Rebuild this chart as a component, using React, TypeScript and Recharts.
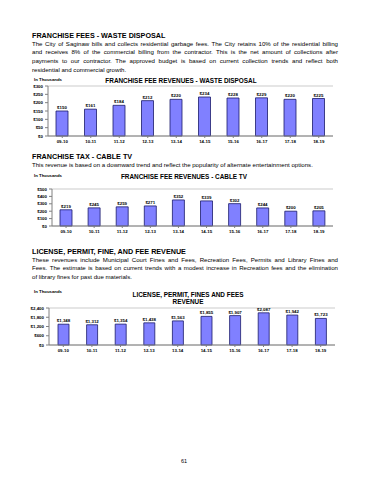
import React from 'react';
import { BarChart, Bar, XAxis, YAxis, CartesianGrid, LabelList } from 'recharts';

const years = ['09-10', '10-11', '11-12', '12-13', '13-14', '14-15', '15-16', '16-17', '17-18', '18-19'];
const wasteValues = [150, 161, 184, 212, 220, 234, 228, 229, 220, 225];
const cableValues = [219, 245, 259, 271, 352, 339, 302, 244, 200, 205];
const licenseValues = [1348, 1312, 1354, 1438, 1563, 1855, 1907, 2087, 1942, 1723];
const wasteTicks = [0, 50, 100, 150, 200, 250, 300];
const cableTicks = [0, 100, 200, 300, 400, 500];
const licenseTicks = [0, 600, 1200, 1800, 2400];

const wastePara = [
  'The City of Saginaw bills and collects residential garbage fees.  The City retains 10% of the residential billing',
  'and receives 8% of the commercial billing from the contractor.  This is the net amount of collections after',
  'payments to our contractor.  The approved budget is based on current collection trends and reflect both',
  'residential and commercial growth.',
];
const cablePara = [
  'This revenue is based on a downward trend and reflect the popularity of alternate entertainment options.',
];
const licensePara = [
  'These revenues include Municipal Court Fines and Fees, Recreation Fees, Permits and Library Fines and',
  'Fees.  The estimate is based on current trends with a modest increase in Recreation fees and the elimination',
  'of library fines for past due materials.',
];

const FONT = '"Liberation Sans", Arial, sans-serif';
const money = (v: number) => '$' + v.toLocaleString('en-US');

const Heading = ({ text, y }: { text: string; y: number }) => (
  <div style={{ position: 'absolute', left: 32, top: y - 4.5, fontSize: 7.2, lineHeight: '9px', fontWeight: 'bold', whiteSpace: 'nowrap' }}>
    {text}
  </div>
);

const Para = ({ lines, y }: { lines: string[]; y: number }) => (
  <div style={{ position: 'absolute', left: 32, top: y - 4.4, width: 306, fontSize: 6.1, lineHeight: '8.8px' }}>
    {lines.map((l, i) => (
      <div
        key={i}
        style={{
          whiteSpace: 'nowrap',
          textAlign: 'justify',
          textAlignLast: i === lines.length - 1 ? 'left' : 'justify',
        }}
      >
        {l}
      </div>
    ))}
  </div>
);

const Small = ({ text, x, y }: { text: string; x: number; y: number }) => (
  <div style={{ position: 'absolute', left: x, top: y - 3, fontSize: 4.3, lineHeight: '6px', fontWeight: 'bold', whiteSpace: 'nowrap' }}>
    {text}
  </div>
);

const Title = ({ lines, cx, y }: { lines: string[]; cx: number; y: number }) => (
  <div style={{ position: 'absolute', left: cx - 100, top: y - 3.5, width: 200, textAlign: 'center', fontSize: 6.4, lineHeight: '7px', fontWeight: 'bold' }}>
    {lines.map((l, i) => (
      <div key={i}>{l}</div>
    ))}
  </div>
);

type ChartProps = {
  values: number[];
  ticks: number[];
  top: number;
  plotTop: number;
  plotBottom: number;
  plotLeft: number;
  plotRight: number;
  barSize: number;
};

const RevenueChart = ({ values, ticks, top, plotTop, plotBottom, plotLeft, plotRight, barSize }: ChartProps) => {
  const data = years.map((y, i) => ({ year: y, value: values[i] }));
  const height = plotBottom - top + 12;
  const tickStyle = { fontSize: 4.4, fontWeight: 'bold', fill: '#000', fontFamily: FONT };
  return (
    <div style={{ position: 'absolute', left: 0, top }}>
      <BarChart
        width={370}
        height={height}
        data={data}
        margin={{ top: plotTop - top, right: 370 - plotRight, left: 0, bottom: 0 }}
      >
        <CartesianGrid vertical={false} stroke="#b4b4b4" strokeWidth={0.7} />
        <XAxis
          dataKey="year"
          height={12}
          tickLine={{ stroke: '#808080' }}
          tickSize={2}
          axisLine={{ stroke: '#808080' }}
          tick={tickStyle}
          interval={0}
        />
        <YAxis
          yAxisId="l"
          width={plotLeft}
          domain={[ticks[0], ticks[ticks.length - 1]]}
          ticks={ticks}
          tickFormatter={money}
          tick={tickStyle}
          tickSize={3}
          tickLine={{ stroke: '#808080' }}
          axisLine={{ stroke: '#808080' }}
          interval={0}
        />
        <YAxis
          yAxisId="r"
          orientation="right"
          width={0}
          domain={[ticks[0], ticks[ticks.length - 1]]}
          tick={false}
          tickLine={false}
          axisLine={{ stroke: '#a0a0a0' }}
        />
        <Bar yAxisId="l" dataKey="value" fill="#8080ff" stroke="#1a1a6b" strokeWidth={0.8} barSize={barSize} isAnimationActive={false}>
          <LabelList dataKey="value" position="top" offset={2} formatter={(v: any) => money(Number(v))} style={tickStyle} />
        </Bar>
      </BarChart>
    </div>
  );
};

export default function App() {
  return (
    <div style={{ position: 'absolute', left: 0, top: 0, width: 370, height: 480, background: '#fff', fontFamily: FONT, color: '#000', overflow: 'hidden' }}>
      <Heading text="FRANCHISE FEES - WASTE DISPOSAL" y={35} />
      <Para lines={wastePara} y={44} />
      <Small text="In Thousands" x={34} y={80} />
      <Title lines={['FRANCHISE FEE REVENUES - WASTE DISPOSAL']} cx={181} y={80} />
      <RevenueChart values={wasteValues} ticks={wasteTicks} top={82} plotTop={86} plotBottom={136} plotLeft={48} plotRight={333} barSize={12} />

      <Heading text="FRANCHISE TAX - CABLE TV" y={156} />
      <Para lines={cablePara} y={165} />
      <Small text="In Thousands" x={34} y={176} />
      <Title lines={['FRANCHISE FEE REVENUES - CABLE TV']} cx={184} y={176} />
      <RevenueChart values={cableValues} ticks={cableTicks} top={184} plotTop={189} plotBottom={226} plotLeft={52} plotRight={333} barSize={12} />

      <Heading text="LICENSE, PERMIT, FINE, AND FEE REVENUE" y={251} />
      <Para lines={licensePara} y={260} />
      <Small text="In Thousands" x={34} y={292} />
      <Title lines={['LICENSE, PERMIT, FINES AND FEES', 'REVENUE']} cx={188} y={294} />
      <RevenueChart values={licenseValues} ticks={licenseTicks} top={302} plotTop={308} plotBottom={345} plotLeft={49} plotRight={335} barSize={11} />

      <div style={{ position: 'absolute', left: 181, top: 458, fontSize: 5.5, lineHeight: '7px' }}>61</div>
    </div>
  );
}
